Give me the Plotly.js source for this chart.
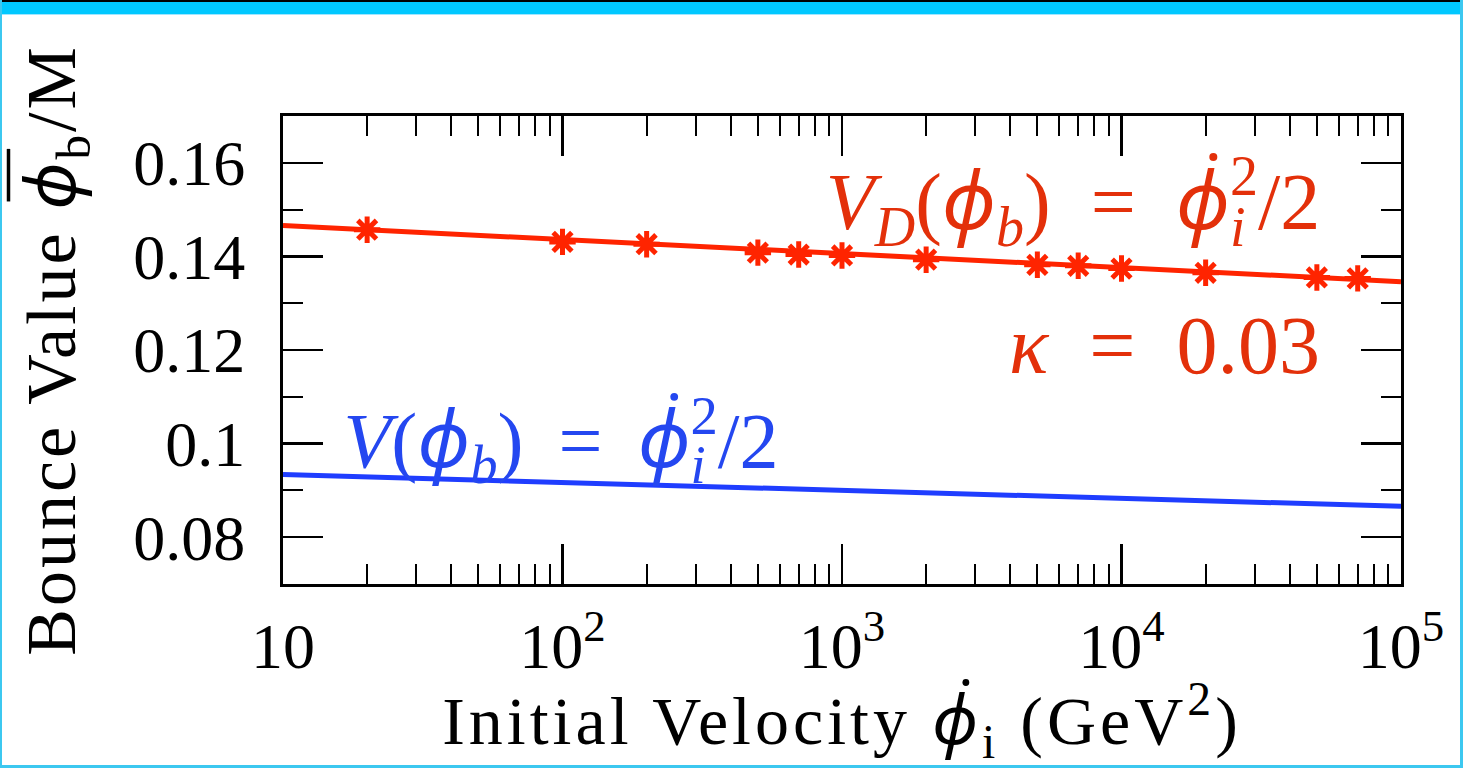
<!DOCTYPE html>
<html>
<head>
<meta charset="utf-8">
<script src="https://cdn.plot.ly/plotly-3.0.1.min.js"></script>
<style>
  html, body { margin: 0; padding: 0; background: #ffffff; }
  #wrap { position: relative; width: 1463px; height: 768px; overflow: hidden; }
  #chart { position: absolute; left: 0; top: 0; width: 1463px; height: 768px; }
  .bd { position: absolute; pointer-events: none; }
  #chart .xtitle { letter-spacing: 4px; }
  #chart .ytitle { letter-spacing: 3px; }
</style>
</head>
<body>
<div id="wrap">
  <div id="chart"></div>
  <div class="bd" style="left:0;top:0;width:1463px;height:2px;background:#000;"></div>
  <div class="bd" style="left:0;top:2px;width:1463px;height:12px;background:#00c8ff;"></div>
  <div class="bd" style="left:0;top:14px;width:1463px;height:1px;background:#9fe6ff;"></div>
  <div class="bd" style="left:0;top:0;width:2px;height:768px;background:#3cc8f0;"></div>
  <div class="bd" style="left:1460px;top:0;width:3px;height:768px;background:#3cc8f0;"></div>
  <div class="bd" style="left:0;top:765px;width:1463px;height:3px;background:#3cc8f0;"></div>
</div>
<script>
// ---- data ----
const velocityPoints = [20, 100, 200, 500, 700, 1000, 2000, 5000, 7000, 10000, 20000, 50000, 70000];
const bounceDerived  = [0.1457, 0.1431, 0.1426, 0.1408, 0.1404, 0.1402, 0.1393, 0.1382, 0.1380, 0.1374, 0.1365, 0.1355, 0.1353];
const redLineX  = [10, 100000];
const redLineY  = [0.1466, 0.1346];
const blueLineX = [10, 1000, 100000];
const blueLineY = [0.0934, 0.0900, 0.0866];

const xTickVals = [10, 100, 1000, 10000, 100000];
const xTickText = ['10', '10<sup>2</sup>', '10<sup>3</sup>', '10<sup>4</sup>', '10<sup>5</sup>'];
const xMinorVals = [20,30,40,50,60,70,80,90,200,300,400,500,600,700,800,900,
                    2000,3000,4000,5000,6000,7000,8000,9000,20000,30000,40000,50000,60000,70000,80000,90000];
const yTickVals = [0.08, 0.10, 0.12, 0.14, 0.16];
const yTickText = ['0.08', '0.1', '0.12', '0.14', '0.16'];
const yMinorVals = [0.07, 0.09, 0.11, 0.13, 0.15, 0.17];

const RED = '#ff2400';
const RED_TXT = '#e3300a';
const BLUE = '#1f3dff';
const BLUE_TXT = '#2447f0';

const PHI = '\u03D5';
const phiSpan = '<span style="font-family:Noto Sans;font-style:italic">' + PHI + '</span>';
const SP2 = '\u00A0\u00A0';
const SPB = '\u00A0\u2009';

const traces = [
  { x: redLineX, y: redLineY, type: 'scatter', mode: 'lines',
    line: { color: RED, width: 5 }, hoverinfo: 'skip' },
  { x: velocityPoints, y: bounceDerived, type: 'scatter', mode: 'markers',
    marker: { symbol: 'asterisk-open', size: 22, color: RED, line: { color: RED, width: 5 } } },
  { x: blueLineX, y: blueLineY, type: 'scatter', mode: 'lines',
    line: { color: BLUE, width: 5 }, hoverinfo: 'skip' }
];

const axisCommon = {
  showgrid: false, zeroline: false,
  showline: true, linecolor: '#000', linewidth: 3, mirror: 'ticks',
  ticks: 'inside', ticklen: 40, tickwidth: 2.5, tickcolor: '#000',
  tickfont: { family: 'Liberation Serif, serif', size: 64, color: '#000' }
};

const layout = {
  width: 1463, height: 768,
  margin: { l: 283, r: 62, t: 116, b: 184 },
  paper_bgcolor: '#fff', plot_bgcolor: '#fff',
  showlegend: false,
  xaxis: Object.assign({}, axisCommon, {
    type: 'log', range: [1, 5], tickmode: 'array', tickvals: xTickVals, ticktext: xTickText,
    ticklabelstandoff: 4,
    minor: { tickmode: 'array', tickvals: xMinorVals, ticks: 'inside', ticklen: 20, tickwidth: 2, tickcolor: '#000', showgrid: false },
    title: { text: 'Initial Velocity ' + phiSpan + '<sub>i</sub> (GeV<sup>2</sup>)',
             font: { family: 'Liberation Serif, serif', size: 68, color: '#000' }, standoff: 19 }
  }),
  yaxis: Object.assign({}, axisCommon, {
    range: [0.07, 0.17], tickmode: 'array', tickvals: yTickVals, ticktext: yTickText,
    ticklabelstandoff: 22,
    minor: { tickmode: 'array', tickvals: yMinorVals, ticks: 'inside', ticklen: 20, tickwidth: 2, tickcolor: '#000', showgrid: false },
    title: { text: 'Bounce Value ' + phiSpan + '<sub>b</sub>/M',
             font: { family: 'Liberation Serif, serif', size: 70, color: '#000' }, standoff: 40 }
  }),
  annotations: [
    { xref: 'paper', yref: 'paper', x: 0.9365, y: 0.82, xanchor: 'right', yanchor: 'middle', showarrow: false,
      text: '<i>V</i><sub><i>D</i></sub>(' + phiSpan + '<sub><i>b</i></sub>)' + SP2 + '=' + SP2 + phiSpan + '<sub><i>i</i></sub><sup>2</sup>/2',
      font: { family: 'Liberation Serif, serif', size: 80, color: RED_TXT } },
    { xref: 'paper', yref: 'paper', x: 0.929, y: 0.51, xanchor: 'right', yanchor: 'middle', showarrow: false,
      text: '<i>κ</i>' + SP2 + '=' + SP2 + '0.03',
      font: { family: 'Liberation Serif, serif', size: 82, color: RED_TXT } },
    { xref: 'paper', yref: 'paper', x: 0.046, y: 0.308, xanchor: 'left', yanchor: 'middle', showarrow: false,
      text: '<i>V</i>(' + phiSpan + '<sub><i>b</i></sub>)' + SPB + '=' + SPB + phiSpan + '<sub><i>i</i></sub><sup>2</sup>/2',
      font: { family: 'Liberation Serif, serif', size: 78, color: BLUE_TXT } }
  ]
};

function stackScripts(gd) {
  gd.querySelectorAll('.annotation-text').forEach(function (txt) {
    const spans = Array.from(txt.querySelectorAll('tspan'));
    for (let k = 0; k < spans.length; k++) {
      if (spans[k].textContent === '2' && spans[k].getAttribute('style') && /font-size/.test(spans[k].getAttribute('style'))) {
        for (let j = k - 1; j >= 0; j--) {
          if (spans[j].textContent === 'i' && spans[j].children.length === 0) {
            const w = spans[j].getComputedTextLength();
            spans[k].setAttribute('dx', (-w).toFixed(1));
            break;
          }
        }
      }
    }
  });
}

// accent (dot or bar) over the last phi of a text element, placed from the text's own glyph positions
function accentPhi(textEl, kind, fs, color) {
  if (!textEl) return;
  const s = textEl.textContent;
  const idx = s.lastIndexOf(PHI);
  if (idx < 0) return;
  const p = textEl.getStartPositionOfChar(idx);
  const e = textEl.getEndPositionOfChar(idx);
  const adv = e.x - p.x;
  const NS = 'http://www.w3.org/2000/svg';
  let m;
  if (kind === 'dot') {
    m = document.createElementNS(NS, 'circle');
    m.setAttribute('cx', p.x + adv * 0.5 + 0.13 * fs);
    m.setAttribute('cy', p.y - 0.9 * fs);
    m.setAttribute('r', 0.05 * fs);
    m.setAttribute('fill', color);
  } else {
    m = document.createElementNS(NS, 'line');
    m.setAttribute('x1', p.x + 0.12 * fs);
    m.setAttribute('x2', e.x + 0.15 * fs);
    m.setAttribute('y1', p.y - 0.95 * fs);
    m.setAttribute('y2', p.y - 0.95 * fs);
    m.setAttribute('stroke', color);
    m.setAttribute('stroke-width', 0.05 * fs);
  }
  const tr = textEl.getAttribute('transform');
  if (tr) m.setAttribute('transform', tr);
  textEl.parentNode.appendChild(m);
}

Plotly.newPlot('chart', traces, layout, { displayModeBar: false, staticPlot: true }).then(function (gd) {
  stackScripts(gd);
  const ann = gd.querySelectorAll('.annotation-text');
  accentPhi(ann[0], 'dot', 80, RED_TXT);
  accentPhi(ann[2], 'dot', 78, BLUE_TXT);
  accentPhi(gd.querySelector('.xtitle'), 'dot', 68, '#000');
  accentPhi(gd.querySelector('.ytitle'), 'bar', 70, '#000');
});
</script>
</body>
</html>
